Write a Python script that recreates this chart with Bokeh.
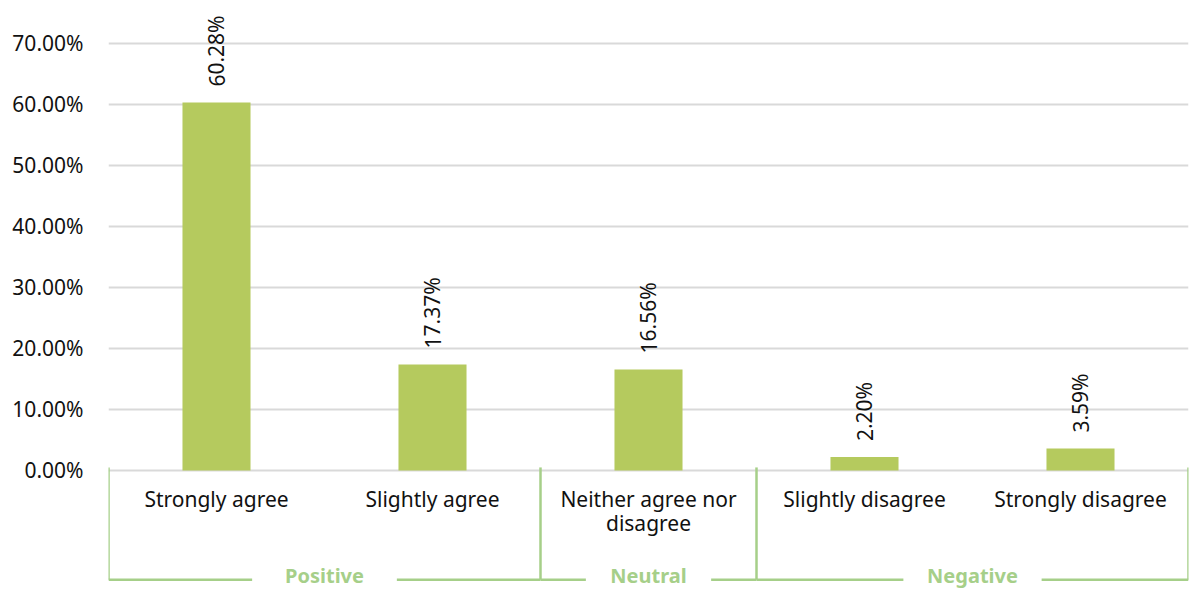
import textwrap
from bokeh.plotting import figure
from bokeh.models import FactorRange, Range1d, FixedTicker, ColumnDataSource
from bokeh.core.properties import value
from bokeh.embed import file_html
from bokeh.resources import INLINE

# Survey responses (share of respondents, %)
categories = ["Strongly agree", "Slightly agree", "Neither agree nor disagree",
              "Slightly disagree", "Strongly disagree"]
shares = [60.28, 17.37, 16.56, 2.20, 3.59]

# Response groups and the categories each one spans
groups = ["Positive", "Neutral", "Negative"]
group_members = [["Strongly agree", "Slightly agree"],
                 ["Neither agree nor disagree"],
                 ["Slightly disagree", "Strongly disagree"]]

y_ticks = [0, 10, 20, 30, 40, 50, 60, 70]
y_tick_labels = ["0.00%", "10.00%", "20.00%", "30.00%", "40.00%",
                 "50.00%", "60.00%", "70.00%"]

FONT = "Noto Sans"
BAR = "#b5ca5e"
BRACKET = "#a6cf89"
GRID = "#d9d9d9"
INK = "#111111"

p = figure(width=1191, height=589,
           x_range=FactorRange(*categories, range_padding=0),
           y_range=Range1d(-19.5, 77.0),
           output_backend="svg", toolbar_location=None,
           x_axis_location=None,
           min_border_left=108, min_border_right=3,
           min_border_top=0, min_border_bottom=0)
p.outline_line_color = None
p.background_fill_color = "white"
p.border_fill_color = "white"

# y axis: labels only, grid lines at the ticks
yax = p.yaxis[0]
yax.ticker = FixedTicker(ticks=y_ticks)
yax.major_label_overrides = {t: l for t, l in zip(y_ticks, y_tick_labels)}
yax.axis_line_color = None
yax.major_tick_line_color = None
yax.minor_tick_line_color = None
yax.major_tick_in = 0
yax.major_tick_out = 0
yax.major_label_standoff = 25
yax.major_label_text_font = FONT
yax.major_label_text_font_size = "21px"
yax.major_label_text_color = INK
p.xgrid.visible = False
p.ygrid.grid_line_color = GRID
p.ygrid.grid_line_width = 2

src = ColumnDataSource(dict(
    cat=categories,
    share=shares,
    label=["%.2f%%" % s for s in shares],
    name=[textwrap.fill(c, 17) for c in categories],
))

p.vbar(x="cat", top="share", bottom=0, width=0.315, source=src,
       fill_color=BAR, line_color=None)

# value labels, rotated, just above each bar
p.text(x="cat", y="share", text="label", source=src, angle=1.5708,
       text_align="left", text_baseline="middle", y_offset=-16,
       text_font=value(FONT), text_font_size="21px", text_color=INK)

# category names under the baseline
p.text(x="cat", y=0, text="name", source=src, text_align="center",
       text_baseline="top", y_offset=15, text_line_height=0.84,
       text_font=value(FONT), text_font_size="21px", text_color=INK)

# group brackets
BR_TOP, BR_Y = 0.5, -17.9
gap = {"Positive": 0.335, "Neutral": 0.29, "Negative": 0.32}
vx, hx0, hx1, gx = [], [], [], []
for g, members in zip(groups, group_members):
    first, last = members[0], members[-1]
    mid = (len(members) - 1) / 2
    vx.append((first, -0.5))
    hx0 += [(first, -0.5), (first, mid + gap[g])]
    hx1 += [(first, mid - gap[g]), (last, 0.5)]
    gx.append((first, mid))
vx.append((group_members[-1][-1], 0.5))

p.segment(x0=vx, x1=vx, y0=[BR_TOP] * len(vx), y1=[BR_Y] * len(vx),
          line_color=BRACKET, line_width=2.5)
p.segment(x0=hx0, x1=hx1, y0=[BR_Y] * len(hx0), y1=[BR_Y] * len(hx0),
          line_color=BRACKET, line_width=2.5)
p.text(x=gx, y=[BR_Y] * len(gx), text=groups, text_align="center",
       text_baseline="middle", y_offset=-4,
       text_font=value(FONT), text_font_style="bold", text_font_size="20px",
       text_color=BRACKET)

open("out.html", "w").write(file_html(p, INLINE))
